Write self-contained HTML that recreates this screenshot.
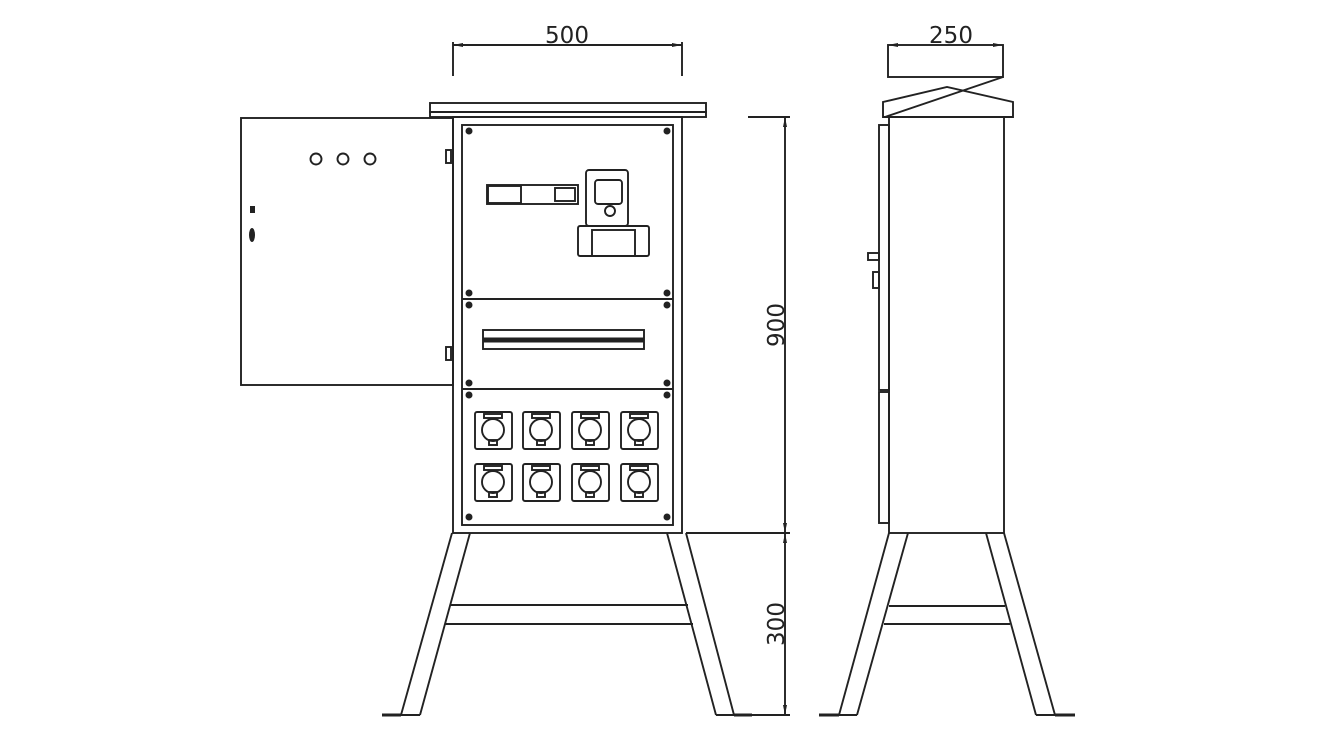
<!DOCTYPE html>
<html><head><style>body{margin:0;background:#fff}svg{display:block}</style></head><body>
<svg width="1318" height="739" viewBox="0 0 1318 739" xmlns="http://www.w3.org/2000/svg" font-family="DejaVu Sans, sans-serif">
<g fill="none" stroke="#222" stroke-width="1.9">
<line x1="453" y1="45" x2="682" y2="45"/><line x1="453" y1="42" x2="453" y2="76"/><line x1="682" y1="42" x2="682" y2="76"/>
<rect x="430" y="103" width="276" height="9"/><rect x="430" y="112" width="276" height="5"/>
<rect x="453" y="117" width="229" height="416"/>
<rect x="462" y="125" width="211" height="400"/>
<line x1="462" y1="299" x2="673" y2="299"/><line x1="462" y1="389" x2="673" y2="389"/>
<rect x="241" y="118" width="212" height="267"/>
<circle cx="316" cy="159" r="5.5"/><circle cx="343" cy="159" r="5.5"/><circle cx="370" cy="159" r="5.5"/>
<rect x="446" y="150" width="5" height="13"/><rect x="446" y="347" width="5" height="13"/>
<rect x="487" y="185" width="91" height="19"/><rect x="488" y="186" width="33" height="17"/>
<rect x="555" y="188" width="20" height="13"/>
<rect x="586" y="170" width="42" height="56" rx="3"/>
<rect x="595" y="180" width="27" height="24" rx="3"/>
<circle cx="610" cy="211" r="5"/>
<rect x="578" y="226" width="71" height="30" rx="2"/>
<rect x="592" y="230" width="43" height="26"/>
<rect x="483" y="330" width="161" height="19"/>
<line x1="483" y1="340" x2="644" y2="340" stroke-width="5"/>
<g id="s">
<rect x="475" y="412" width="37" height="37" rx="2"/>
<circle cx="493" cy="430" r="11"/>
<rect x="484" y="414" width="18" height="4"/>
<rect x="489" y="440" width="8" height="5"/>
</g>
<use href="#s" x="48"/><use href="#s" x="97"/><use href="#s" x="146"/>
<use href="#s" y="52"/><use href="#s" x="48" y="52"/><use href="#s" x="97" y="52"/><use href="#s" x="146" y="52"/>
<line x1="452" y1="533" x2="401" y2="715"/><line x1="470" y1="533" x2="420" y2="715"/><line x1="401" y1="715" x2="420" y2="715"/>
<line x1="667" y1="533" x2="716" y2="715"/><line x1="686" y1="533" x2="734" y2="715"/><line x1="716" y1="715" x2="734" y2="715"/>
<line x1="450" y1="605" x2="688" y2="605"/><line x1="445" y1="624" x2="693" y2="624"/>
<line x1="382" y1="715" x2="401" y2="715" stroke-width="3"/><line x1="734" y1="715" x2="752" y2="715" stroke-width="3"/>
<line x1="785" y1="117" x2="785" y2="715"/>
<line x1="748" y1="117" x2="790" y2="117"/><line x1="686" y1="533" x2="790" y2="533"/><line x1="752" y1="715" x2="790" y2="715"/>
<rect x="888" y="45" width="115" height="32"/>
<line x1="1003" y1="77" x2="885" y2="117"/>
<path d="M883 117 v-15 l64 -15 l66 15 v15 z"/>
<rect x="889" y="117" width="115" height="416"/>
<rect x="879" y="125" width="10" height="265"/><rect x="879" y="392" width="10" height="131"/>
<rect x="868" y="253" width="11" height="7"/><rect x="873" y="272" width="6" height="16"/>
<line x1="889" y1="533" x2="839" y2="715"/><line x1="908" y1="533" x2="857" y2="715"/><line x1="839" y1="715" x2="857" y2="715"/>
<line x1="986" y1="533" x2="1036" y2="715"/><line x1="1004" y1="533" x2="1055" y2="715"/><line x1="1036" y1="715" x2="1055" y2="715"/>
<line x1="889" y1="606" x2="1005" y2="606"/><line x1="884" y1="624" x2="1010" y2="624"/>
<line x1="819" y1="715" x2="839" y2="715" stroke-width="3"/><line x1="1055" y1="715" x2="1075" y2="715" stroke-width="3"/>
</g>
<g fill="#222">
<circle cx="469" cy="131" r="3.5"/><circle cx="667" cy="131" r="3.5"/><circle cx="469" cy="293" r="3.5"/><circle cx="667" cy="293" r="3.5"/>
<circle cx="469" cy="305" r="3.5"/><circle cx="667" cy="305" r="3.5"/><circle cx="469" cy="383" r="3.5"/><circle cx="667" cy="383" r="3.5"/>
<circle cx="469" cy="395" r="3.5"/><circle cx="667" cy="395" r="3.5"/><circle cx="469" cy="517" r="3.5"/><circle cx="667" cy="517" r="3.5"/>
<rect x="250" y="206" width="5" height="7"/><ellipse cx="252" cy="235" rx="3" ry="7"/>
<polygon points="453,45 463,43 463,47"/><polygon points="682,45 672,43 672,47"/>
<polygon points="888,45 898,43 898,47"/><polygon points="1003,45 993,43 993,47"/>
<polygon points="785,117 783,127 787,127"/><polygon points="785,533 783,523 787,523"/><polygon points="785,533 783,543 787,543"/><polygon points="785,715 783,705 787,705"/>
</g>
<g font-size="23" fill="#222" text-anchor="middle">
<text x="567" y="43">500</text>
<text x="951" y="43">250</text>
<text transform="translate(784,325) rotate(-90)">900</text>
<text transform="translate(784,624) rotate(-90)">300</text>
</g>
</svg>
</body></html>
